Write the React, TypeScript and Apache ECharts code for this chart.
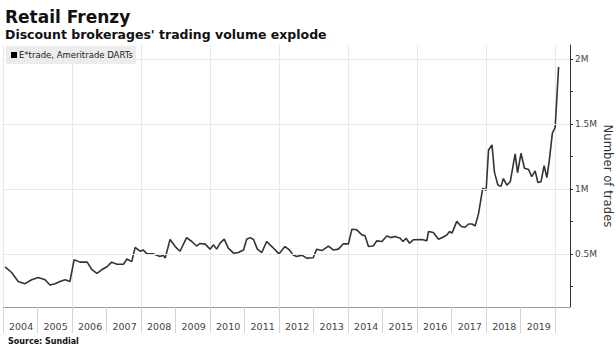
import { useEffect, useRef } from "react";
import * as echarts from "echarts";

// Decimal year of each traced point and the DARTs value (millions of trades)
const dates = [
  2004.06, 2004.25, 2004.44, 2004.64, 2004.83, 2005.02, 2005.22, 2005.36, 2005.51, 2005.65,
  2005.8, 2005.94, 2006.06, 2006.23, 2006.44, 2006.57, 2006.72, 2006.86, 2007.01, 2007.15,
  2007.3, 2007.49, 2007.59, 2007.73, 2007.83, 2007.97, 2008.06, 2008.17, 2008.35, 2008.55,
  2008.64, 2008.7, 2008.84, 2008.99, 2009.13, 2009.32, 2009.47, 2009.61, 2009.71, 2009.86,
  2010.0, 2010.1, 2010.19, 2010.29, 2010.41, 2010.53, 2010.68, 2010.82, 2010.97, 2011.06,
  2011.16, 2011.26, 2011.37, 2011.5, 2011.64, 2011.79, 2012.0, 2012.17, 2012.3, 2012.41,
  2012.51, 2012.66, 2012.8, 2012.99, 2013.09, 2013.24, 2013.43, 2013.57, 2013.72, 2013.86,
  2014.01, 2014.11, 2014.25, 2014.4, 2014.49, 2014.59, 2014.73, 2014.83, 2014.98, 2015.12,
  2015.24, 2015.36, 2015.51, 2015.59, 2015.68, 2015.78, 2015.89, 2016.14, 2016.28, 2016.33,
  2016.47, 2016.62, 2016.76, 2016.86, 2016.94, 2017.01, 2017.15, 2017.28, 2017.39, 2017.49,
  2017.59, 2017.68, 2017.78, 2017.9, 2018.0, 2018.07, 2018.17, 2018.24, 2018.34, 2018.43,
  2018.5, 2018.6, 2018.7, 2018.84, 2018.91, 2019.01, 2019.11, 2019.23, 2019.32, 2019.42,
  2019.5, 2019.59, 2019.68, 2019.76, 2019.83, 2019.92, 2020.0, 2020.1,
];
const dartsMillions = [
  0.4, 0.356, 0.287, 0.27, 0.3, 0.318, 0.3, 0.26, 0.27, 0.287,
  0.3, 0.287, 0.454, 0.436, 0.436, 0.38, 0.35, 0.377, 0.4, 0.436,
  0.42, 0.42, 0.46, 0.44, 0.55, 0.52, 0.53, 0.5, 0.5, 0.48,
  0.49, 0.467, 0.61, 0.556, 0.52, 0.625, 0.595, 0.56, 0.58, 0.575,
  0.536, 0.569, 0.536, 0.582, 0.613, 0.544, 0.505, 0.51, 0.53, 0.613,
  0.625, 0.61, 0.536, 0.51, 0.595, 0.556, 0.5, 0.556, 0.53, 0.49,
  0.48, 0.49, 0.467, 0.47, 0.536, 0.525, 0.56, 0.53, 0.536, 0.577,
  0.577, 0.69, 0.685, 0.646, 0.64, 0.556, 0.56, 0.6, 0.595, 0.638,
  0.625, 0.633, 0.62, 0.595, 0.62, 0.582, 0.608, 0.61, 0.6, 0.672,
  0.665, 0.613, 0.63, 0.646, 0.672, 0.66, 0.75, 0.71, 0.705, 0.73,
  0.73, 0.715, 0.81, 1.005, 0.99, 1.3, 1.34, 1.13, 1.03, 1.02,
  1.08, 1.03, 1.056, 1.27, 1.125, 1.275, 1.16, 1.15, 1.095, 1.14,
  1.05, 1.056, 1.18, 1.087, 1.22, 1.43, 1.475, 1.94,
];

const firstYear = 2004;
const lastLabelYear = 2019;
const yLabelValues = [0.5, 1, 1.5, 2];
const yTickValues = [0.25, 0.5, 0.75, 1, 1.25, 1.5, 1.75, 2];

const FONT = "DejaVu Sans";

export default function App() {
  const ref = useRef<HTMLDivElement>(null);

  useEffect(() => {
    const chart = echarts.init(ref.current!, null, { renderer: "svg" });
    chart.setOption({
      animation: false,
      backgroundColor: "#ffffff",
      grid: { left: 3, right: 46, top: 45, bottom: 46, containLabel: false },
      xAxis: [
        {
          type: "value",
          min: firstYear,
          max: 2020.43,
          interval: 1,
          axisLine: { show: true, lineStyle: { color: "#9a9a9a", width: 1 } },
          axisTick: { show: true, length: 26, lineStyle: { color: "#d4d4d4", width: 1 } },
          axisLabel: {
            showMinLabel: true,
            showMaxLabel: false,
            formatter: (v: number) =>
              Number.isInteger(v) && v <= lastLabelYear ? String(v) : "",
            align: "left",
            padding: [0, 0, 0, 6],
            margin: 14,
            fontSize: 9.5,
            fontFamily: FONT,
            color: "#444",
          },
          splitLine: { show: false },
        },
        {
          type: "value",
          min: firstYear,
          max: 2020.43,
          interval: 2,
          position: "top",
          axisLine: { show: false },
          axisTick: { show: false },
          axisLabel: { show: false },
          splitLine: { show: true, lineStyle: { color: "#e8e8e8", width: 1 } },
        },
      ],
      yAxis: {
        type: "value",
        position: "right",
        min: 0.09,
        max: 2.11,
        axisLine: { show: true, lineStyle: { color: "#333", width: 1 } },
        axisTick: {
          show: true,
          length: 3,
          customValues: yTickValues,
          lineStyle: { color: "#333" },
        },
        axisLabel: {
          customValues: yLabelValues,
          formatter: (v: number) => `${v}M`,
          margin: 5,
          fontSize: 9,
          fontFamily: FONT,
          color: "#444",
        },
        splitLine: { show: false },
      },
      series: [
        {
          type: "line",
          xAxisIndex: 0,
          data: dates.map((d, i) => [d, dartsMillions[i]]),
          showSymbol: false,
          symbol: "none",
          lineStyle: { color: "#333", width: 1.6 },
          silent: true,
          markLine: {
            silent: true,
            symbol: ["none", "none"],
            label: { show: false },
            lineStyle: { color: "#e8e8e8", type: "solid", width: 1 },
            data: yLabelValues.map((v) => ({ yAxis: v })),
          },
        },
      ],
      graphic: [
        {
          type: "text",
          x: 5,
          y: 16.5,
          style: {
            text: "Retail Frenzy",
            fontSize: 17,
            fontWeight: "bold",
            fontFamily: FONT,
            fill: "#111",
            verticalAlign: "middle",
          },
        },
        {
          type: "text",
          x: 5,
          y: 34,
          style: {
            text: "Discount brokerages' trading volume explode",
            fontSize: 12.5,
            fontWeight: "bold",
            fontFamily: FONT,
            fill: "#111",
            verticalAlign: "middle",
          },
        },
        {
          type: "rect",
          z: 100,
          shape: { x: 6, y: 46, width: 130, height: 18 },
          style: { fill: "#ececec" },
        },
        {
          type: "rect",
          z: 101,
          shape: { x: 11, y: 52, width: 6, height: 6 },
          style: { fill: "#000" },
        },
        {
          type: "text",
          z: 101,
          x: 19,
          y: 55,
          style: {
            text: "E*trade, Ameritrade DARTs",
            fontSize: 8.5,
            fontFamily: FONT,
            fill: "#222",
            verticalAlign: "middle",
          },
        },
        {
          type: "text",
          x: 608,
          y: 176,
          rotation: -Math.PI / 2,
          style: {
            text: "Number of trades",
            fontSize: 11.7,
            fontFamily: FONT,
            fill: "#333",
            align: "center",
            verticalAlign: "middle",
          },
        },
        {
          type: "text",
          x: 8,
          y: 341,
          style: {
            text: "Source: Sundial",
            fontSize: 8,
            fontWeight: "bold",
            fontFamily: FONT,
            fill: "#111",
            verticalAlign: "middle",
          },
        },
      ],
    });
    return () => chart.dispose();
  }, []);

  return (
    <div
      ref={ref}
      style={{ width: 616, height: 353, position: "fixed", left: 0, top: 0 }}
    />
  );
}
